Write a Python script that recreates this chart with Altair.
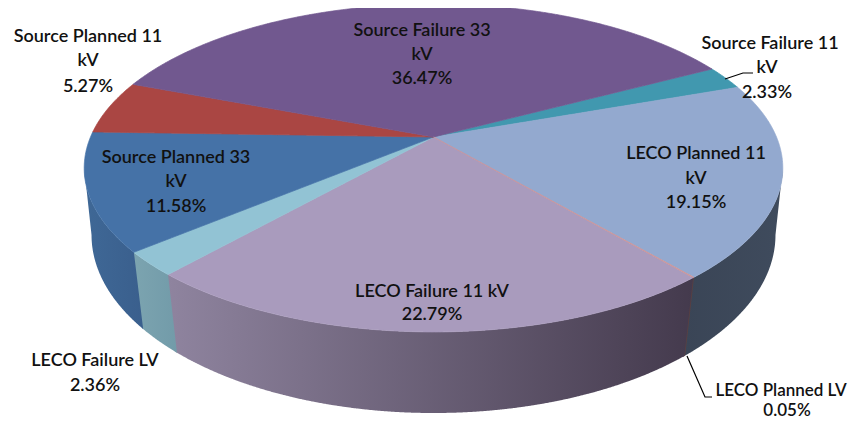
import math
import altair as alt
import numpy as np
import pandas as pd

# ---- chart values (clockwise, starting at the top-right) ----
names = ["Source Failure 11 kV", "LECO Planned 11 kV", "LECO Planned LV", "LECO Failure 11 kV",
         "LECO Failure LV", "Source Planned 33 kV", "Source Planned 11 kV", "Source Failure 33 kV"]
shares = [2.33, 19.15, 0.05, 22.79, 2.36, 11.58, 5.27, 36.47]
top_colors = ["#4198AF", "#93A9CF", "#D19392", "#A99BBD", "#92C3D4", "#4572A7", "#AA4643", "#71588F"]
wall_stops = {
    "LECO Planned 11 kV": ["#3A4556", "#3F4B5D"],
    "LECO Planned LV": ["#5A3F40", "#5A3F40"],
    "LECO Failure 11 kV": ["#8F849F", "#443A4D"],
    "LECO Failure LV": ["#7CA4B0", "#729BA9"],
    "Source Planned 33 kV": ["#3F6896", "#3A5F8D"],
}

label_lines = [
    ("Source Failure 33", 422, 31, 18), ("kV", 422, 55, 18), ("36.47%", 422, 79, 18),
    ("Source Planned 11", 88, 37, 18), ("kV", 88, 61, 18), ("5.27%", 88, 87, 18),
    ("Source Planned 33", 176, 158, 18), ("kV", 176, 182, 18), ("11.58%", 176, 207, 18),
    ("Source Failure 11", 770, 44, 18), ("kV", 767, 68, 18), ("2.33%", 767, 93, 18),
    ("LECO Planned 11", 696, 154, 18), ("kV", 696, 179, 18), ("19.15%", 696, 203, 18),
    ("LECO Failure 11 kV", 432, 292, 18), ("22.79%", 432, 315, 18),
    ("LECO Failure LV", 95, 361, 18), ("2.36%", 95, 386, 18),
    ("LECO Planned LV", 781, 391, 17), ("0.05%", 787, 411, 17),
]
leader_a = [(725, 79), (743, 73), (753, 73)]
leader_b = [(687, 356), (705, 397), (712, 397)]

# ---- perspective of the disc ----
START = 62.1
TOP = dict(x0=433.5, y0=137.0, a=343.0, b=158.1, k=0.189)
BOT = dict(x0=433.5, y0=204.7, a=337.0, b=172.9, k=0.17)
WIDTH, HEIGHT = 840, 414
xs_scale = alt.Scale(domain=[8, 8 + WIDTH], range=[0, WIDTH], nice=False, zero=False)
ys_scale = alt.Scale(domain=[8, 8 + HEIGHT], range=[0, HEIGHT], nice=False, zero=False)


def pt(theta, d):
    t = math.radians(theta)
    u, v = math.sin(t), -math.cos(t)
    w = 1 - d["k"] * v
    return d["x0"] + d["a"] * u / w, d["y0"] + d["b"] * v / w


def arc(t1, t2, d):
    n = max(2, int(abs(t2 - t1) / 0.5) + 2)
    return [pt(t, d) for t in np.linspace(t1, t2, n)]


def sections(poly):
    """vertical sections of an x-monotone polygon, as rows for an area mark"""
    px = sorted(p[0] for p in poly)
    grid = sorted(set(list(px) + list(np.arange(math.ceil(px[0]), px[-1], 1.0))))
    m = len(poly)
    rows = []
    for x in grid:
        hits = []
        for i in range(m):
            (x1, y1), (x2, y2) = poly[i], poly[(i + 1) % m]
            if min(x1, x2) <= x <= max(x1, x2):
                if x1 == x2:
                    hits += [y1, y2]
                else:
                    hits.append(y1 + (x - x1) / (x2 - x1) * (y2 - y1))
        if hits:
            rows.append({"x": x, "y": min(hits), "y2": max(hits)})
    return pd.DataFrame(rows)


def area_layer(poly, paint, stroke=None, sw=0.7):
    kw = {"stroke": stroke, "strokeWidth": sw} if stroke else {}
    return alt.Chart(sections(poly)).mark_area(color=paint, orient="vertical", **kw).encode(
        x=alt.X("x:Q", scale=xs_scale, axis=None),
        y=alt.Y("y:Q", scale=ys_scale, axis=None),
        y2="y2:Q",
    )


bounds = [START]
for s in shares:
    bounds.append(bounds[-1] + s * 3.6)

layers = []
# side walls (each runs slightly under the next one, so no seam shows)
T_R, T_L = 100.9, 259.1
B_R, B_L = 99.8, 260.2
for i, name in enumerate(names):
    if name not in wall_stops:
        continue
    t1, t2 = bounds[i], bounds[i + 1] + 0.4
    top = arc(max(t1, T_R), min(t2, T_L), TOP)
    bot = arc(max(t1, B_R), min(t2, B_L), BOT)
    poly = top + bot[::-1]
    c = wall_stops[name]
    grad = alt.Gradient(gradient="linear", x1=0, x2=1, y1=0, y2=0,
                        stops=[alt.GradientStop(color=c[0], offset=0),
                               alt.GradientStop(color=c[1], offset=1)])
    layers.append(area_layer(poly, grad))

# top face
order = [i for i in range(len(names)) if names[i] != "LECO Planned LV"] + [names.index("LECO Planned LV")]
for i in order:
    poly = [(TOP["x0"], TOP["y0"])] + arc(bounds[i], bounds[i + 1], TOP)
    layers.append(area_layer(poly, top_colors[i], stroke=top_colors[i],
                             sw=0.4 if names[i] == "LECO Planned LV" else 0.7))

# leader lines
for leader in (leader_a, leader_b):
    df = pd.DataFrame([{"x": p[0], "y": p[1], "o": j} for j, p in enumerate(leader)])
    layers.append(alt.Chart(df).mark_line(color="#000000", strokeWidth=1.2).encode(
        x=alt.X("x:Q", scale=xs_scale, axis=None),
        y=alt.Y("y:Q", scale=ys_scale, axis=None),
        order="o:O",
    ))

# labels
text_df = pd.DataFrame([{"t": t, "x": x, "y": y, "s": s} for t, x, y, s in label_lines])
layers.append(alt.Chart(text_df).mark_text(
    font="Lato", fontWeight=600, color="#111111", align="center", baseline="middle"
).encode(
    x=alt.X("x:Q", scale=xs_scale, axis=None),
    y=alt.Y("y:Q", scale=ys_scale, axis=None),
    text="t:N",
    size=alt.Size("s:Q", scale=None, legend=None),
))

chart = alt.layer(*layers).properties(
    width=WIDTH, height=HEIGHT, padding=0, background="#FFFFFF",
    autosize=alt.AutoSizeParams(type="none"),
).configure_view(stroke=None)

chart.save("out.html", embed_options={"renderer": "svg", "actions": False})
